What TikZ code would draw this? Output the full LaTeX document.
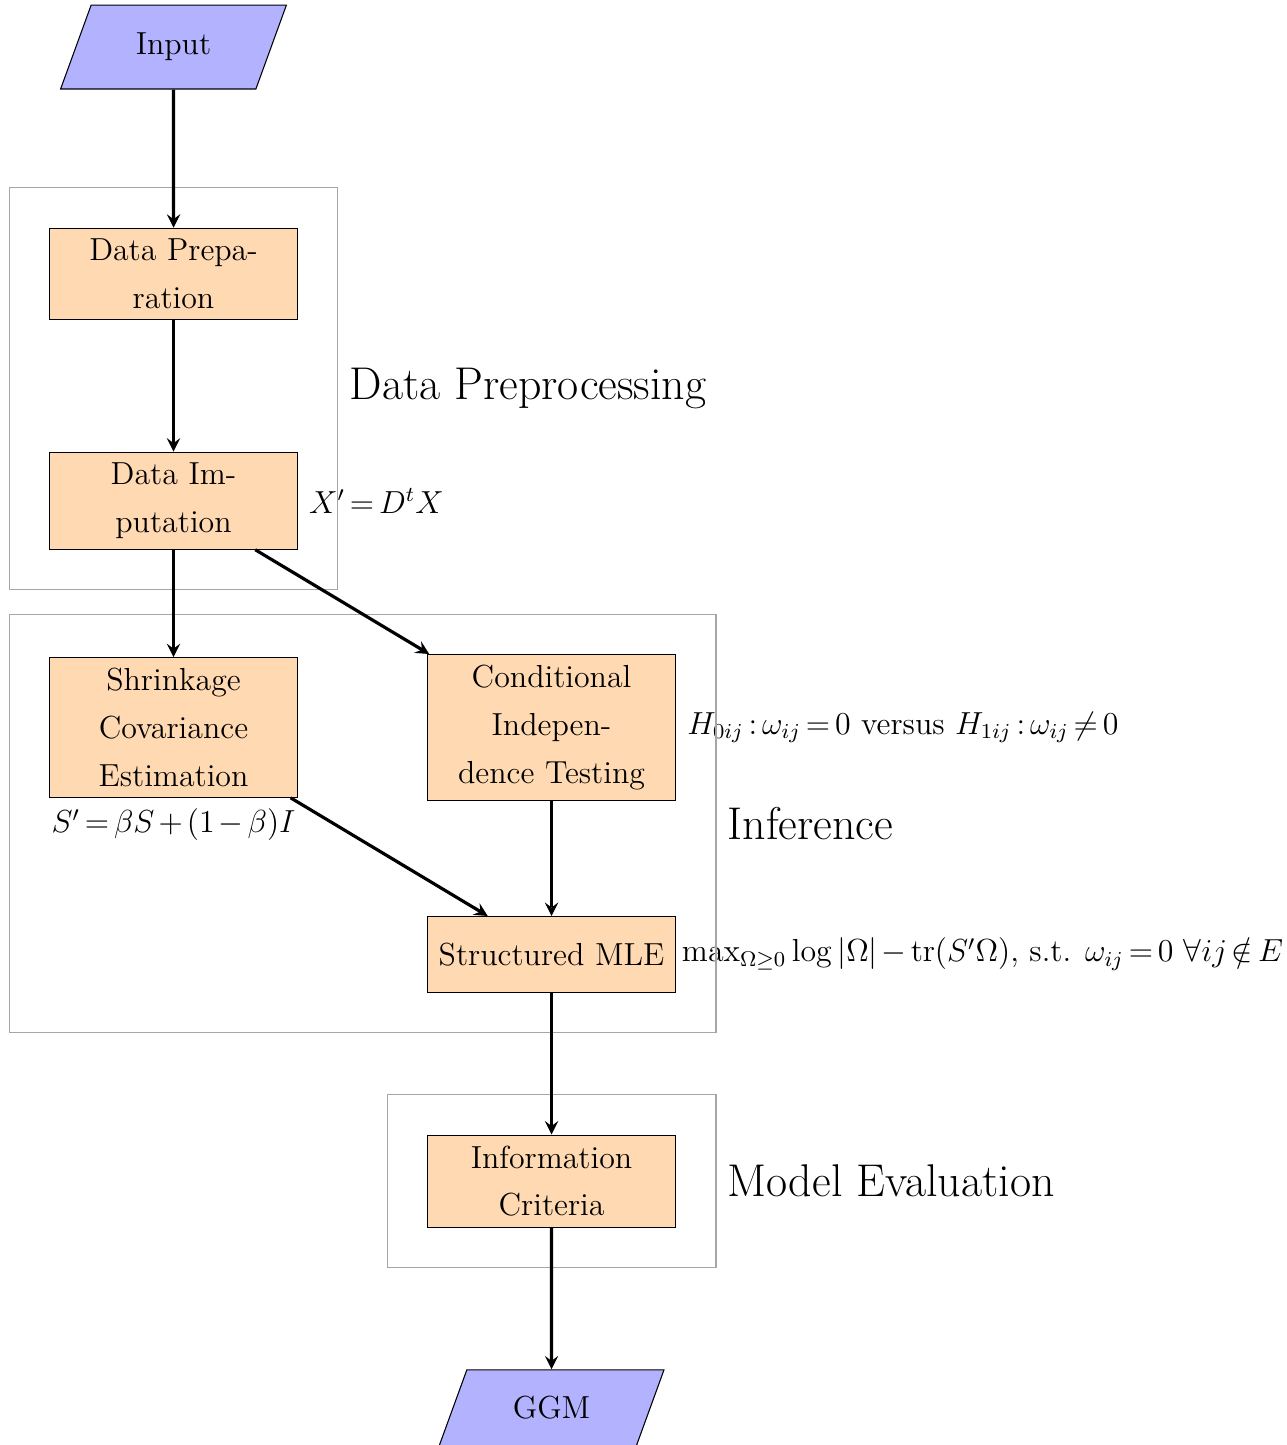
\documentclass[tikz,border=0pt,12pt]{standalone}
\usepackage{amsmath,amssymb}
\usetikzlibrary{shapes.geometric, arrows, fit}
\linespread{1.241}
\thickmuskip=2.75mu plus 5mu
\medmuskip=2.3mu plus 2mu minus 2mu

\tikzset{
  io/.style={trapezium, trapezium left angle=70, trapezium right angle=110,
    minimum width=3cm, minimum height=1cm, text centered, draw=black, fill=blue!30},
  process/.style={rectangle, minimum width=3cm, minimum height=1cm,
    text centered, text width=3cm, draw=black, fill=orange!30},
  group/.style={draw=black!35, inner sep=15pt},
  arrow/.style={very thick, ->, >=stealth}
}

\begin{document}
\begin{tikzpicture}
  \useasboundingbox (-2.295,0.622) rectangle (14.716,-18.49);

  % Input and output
  \node (input) [io] at (0,0) {Input};
  \node (ggm) [io] at (5,-18) {GGM};

  % Process steps
  \node (prep) [process] at (0,-3) {Data Preparation};
  \node (imp) [process] at (0,-6) {Data Imputation};
  \node (shrink) [process] at (0,-9) {Shrinkage Covariance Estimation};
  \node (cond) [process] at (5,-9) {Conditional Indepen-\\dence Testing};
  \node (mle) [process] at (5,-12) {Structured MLE};
  \node (info) [process] at (5,-15) {Information Criteria};

  % Formulas next to the steps
  \node (eqimp) [anchor=west] at (imp.east) {$X' = D^t X$};
  \node (eqshrink) [anchor=north] at (shrink.south) {$S' = \beta S + (1-\beta) I$};
  \node (eqcond) [anchor=west] at (cond.east) {$H_{0ij} : \omega_{ij} = 0$ versus $H_{1ij} : \omega_{ij} \neq 0$};
  \node (eqmle) [anchor=west, inner xsep=2pt] at (mle.east) {$\max_{\Omega \geq 0} \log|\Omega| - \operatorname{tr}(S'\Omega)$, s.t. $\omega_{ij} = 0 \ \forall ij \notin E$};

  % Group boxes with their titles
  \node (preproc) [group, fit=(prep)(imp)] {};
  \node (infer) [group, fit=(shrink)(cond)(mle)] {};
  \node (evalu) [group, fit=(info)] {};
  \node (preproclab) [anchor=west] at (preproc.east) {\Large Data Preprocessing};
  \node (inferlab) [anchor=west] at (infer.east) {\Large Inference};
  \node (evallab) [anchor=west] at (evalu.east) {\Large Model Evaluation};

  % Draw the arrows
  \draw [arrow] (input) -- (prep);
  \draw [arrow] (prep) -- (imp);
  \draw [arrow] (imp) -- (shrink);
  \draw [arrow] (imp) -- (cond);
  \draw [arrow] (shrink) -- (mle);
  \draw [arrow] (cond) -- (mle);
  \draw [arrow] (mle) -- (info);
  \draw [arrow] (info) -- (ggm);

\end{tikzpicture}
\end{document}
